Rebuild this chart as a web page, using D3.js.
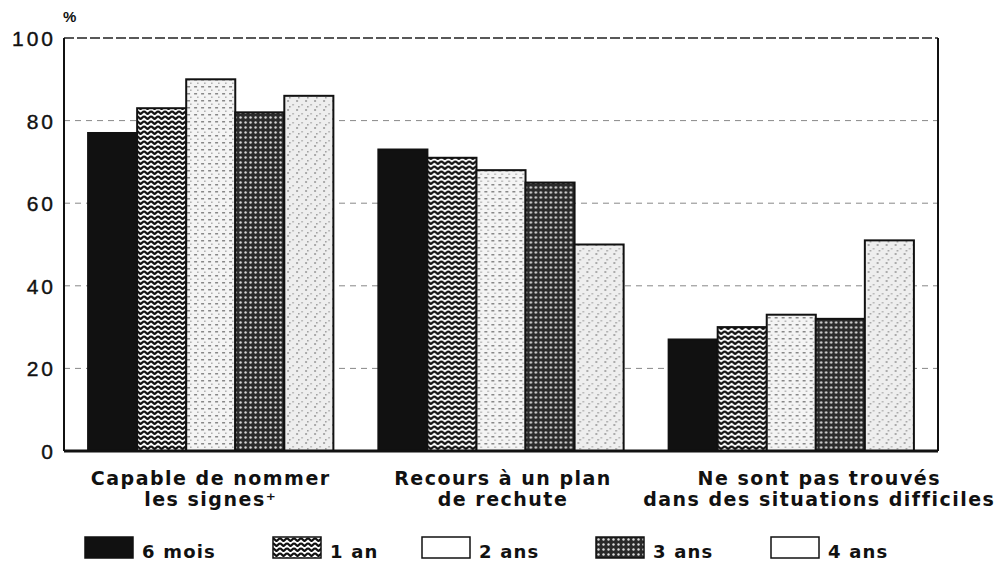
<!DOCTYPE html>
<html>
<head>
<meta charset="utf-8">
<script src="https://cdn.jsdelivr.net/npm/d3@7"></script>
<style>
  body { margin: 0; background: #fff; }
  text { font-family: "Liberation Sans", Arial, sans-serif; fill: #111; }
  .lab { font-family: "DejaVu Sans", sans-serif; font-weight: bold; }
</style>
</head>
<body>
<script>
var groups = ["Capable de nommer|les signes⁺", "Recours à un plan|de rechute", "Ne sont pas trouvés|dans des situations difficiles"];
var series = ["6 mois", "1 an", "2 ans", "3 ans", "4 ans"];
var values = [
  [77, 83, 90, 82, 86],
  [73, 71, 68, 65, 50],
  [27, 30, 33, 32, 51]
];
var yTicks = [0, 20, 40, 60, 80, 100];

var W = 998, H = 567;
var margin = {top: 38, right: 60, bottom: 116, left: 64};

var svg = d3.select("body").append("svg")
  .attr("width", W).attr("height", H);

// patterns
var defs = svg.append("defs");
var p1 = defs.append("pattern").attr("id", "zig").attr("patternUnits", "userSpaceOnUse")
  .attr("width", 7).attr("height", 5);
p1.append("rect").attr("width", 7).attr("height", 5).attr("fill", "#fff");
p1.append("path").attr("d", "M0,1 L3.5,4 L7,1").attr("stroke", "#111").attr("stroke-width", 2.3).attr("fill", "none");

var p2 = defs.append("pattern").attr("id", "light").attr("patternUnits", "userSpaceOnUse")
  .attr("width", 7).attr("height", 7);
p2.append("rect").attr("width", 7).attr("height", 7).attr("fill", "#f4f4f4");
p2.append("rect").attr("x", 1).attr("y", 2).attr("width", 3).attr("height", 1.5).attr("fill", "#888");
p2.append("rect").attr("x", 4).attr("y", 5.5).attr("width", 1.5).attr("height", 1.5).attr("fill", "#aaa");

var p3 = defs.append("pattern").attr("id", "dots").attr("patternUnits", "userSpaceOnUse")
  .attr("width", 5).attr("height", 5);
p3.append("rect").attr("width", 5).attr("height", 5).attr("fill", "#2a2a2a");
p3.append("circle").attr("cx", 2.5).attr("cy", 2.5).attr("r", 1.2).attr("fill", "#ddd");

var p4 = defs.append("pattern").attr("id", "speck").attr("patternUnits", "userSpaceOnUse")
  .attr("width", 9).attr("height", 9);
p4.append("rect").attr("width", 9).attr("height", 9).attr("fill", "#eee");
p4.append("rect").attr("x", 1).attr("y", 1).attr("width", 2).attr("height", 2).attr("fill", "#aaa");
p4.append("rect").attr("x", 6).attr("y", 5).attr("width", 2).attr("height", 1.5).attr("fill", "#bbb");
p4.append("rect").attr("x", 3).attr("y", 7).attr("width", 1.5).attr("height", 1.5).attr("fill", "#999");

var fills = ["#111", "url(#zig)", "url(#light)", "url(#dots)", "url(#speck)"];
var legendFills = ["#111", "url(#zig)", "#fff", "url(#dots)", "#fff"];

var x0 = d3.scaleBand().domain(groups).range([margin.left, W - margin.right])
  .paddingInner(0.155).paddingOuter(0.083);
var x1 = d3.scaleBand().domain(series).range([0, x0.bandwidth()]);
var y = d3.scaleLinear().domain([0, 100]).range([H - margin.bottom, margin.top]);

// grid lines
svg.append("g").selectAll("line").data(yTicks.filter(function(d){ return d > 0 && d < 100; }))
  .enter().append("line")
  .attr("x1", margin.left).attr("x2", W - margin.right)
  .attr("y1", function(d){ return y(d); }).attr("y2", function(d){ return y(d); })
  .attr("stroke", "#888").attr("stroke-width", 1).attr("stroke-dasharray", "6,5");

// frame
svg.append("line").attr("x1", margin.left).attr("x2", W - margin.right)
  .attr("y1", y(100)).attr("y2", y(100))
  .attr("stroke", "#222").attr("stroke-width", 1.5).attr("stroke-dasharray", "10,3");
svg.append("line").attr("x1", margin.left).attr("x2", margin.left)
  .attr("y1", y(100)).attr("y2", y(0)).attr("stroke", "#111").attr("stroke-width", 2);
svg.append("line").attr("x1", W - margin.right).attr("x2", W - margin.right)
  .attr("y1", y(100)).attr("y2", y(0)).attr("stroke", "#111").attr("stroke-width", 2);

// bars
var g = svg.append("g").selectAll("g").data(groups).enter().append("g")
  .attr("transform", function(d){ return "translate(" + x0(d) + ",0)"; });
g.selectAll("rect").data(function(d, i){ return values[i].map(function(v, j){ return {s: series[j], v: v, j: j}; }); })
  .enter().append("rect")
  .attr("x", function(d){ return x1(d.s); })
  .attr("width", x1.bandwidth())
  .attr("y", function(d){ return y(d.v); })
  .attr("height", function(d){ return y(0) - y(d.v); })
  .attr("fill", function(d){ return fills[d.j]; })
  .attr("stroke", "#111").attr("stroke-width", 2);

// baseline
svg.append("line").attr("x1", margin.left).attr("x2", W - margin.right)
  .attr("y1", y(0)).attr("y2", y(0)).attr("stroke", "#111").attr("stroke-width", 3);

// y labels
svg.append("g").selectAll("text").data(yTicks).enter().append("text")
  .attr("x", 56).attr("y", function(d){ return y(d) + 8; })
  .attr("text-anchor", "end").attr("font-size", 21).attr("letter-spacing", 3)
  .attr("stroke", "#111").attr("stroke-width", 0.4)
  .text(function(d){ return d; });
svg.append("text").attr("x", 63).attr("y", 22).attr("font-size", 15).attr("font-weight", "bold").text("%");

// category labels
var labShift = [0, 2, 28];
var lab = svg.append("g").selectAll("text").data(groups).enter().append("text")
  .attr("class", "lab")
  .attr("text-anchor", "middle").attr("font-size", 19).attr("letter-spacing", 1.5)
  .attr("x", function(d, i){ return x0(d) + x0.bandwidth() / 2 + labShift[i]; });
lab.selectAll("tspan").data(function(d){ return d.split("|"); }).enter().append("tspan")
  .attr("x", function(){ return this.parentNode.getAttribute("x"); })
  .attr("y", function(d, i){ return 485 + i * 21; })
  .text(function(d){ return d; });

// legend
var legX = [85, 273, 422, 596, 771];
var leg = svg.append("g").selectAll("g").data(series).enter().append("g")
  .attr("transform", function(d, i){ return "translate(" + legX[i] + ",537)"; });
leg.append("rect").attr("width", 48).attr("height", 21)
  .attr("fill", function(d, i){ return legendFills[i]; })
  .attr("stroke", "#111").attr("stroke-width", 1.5);
leg.append("text").attr("class", "lab").attr("x", 57).attr("y", 21).attr("font-size", 18).attr("letter-spacing", 1.2)
  .text(function(d){ return d; });
</script>
</body>
</html>
